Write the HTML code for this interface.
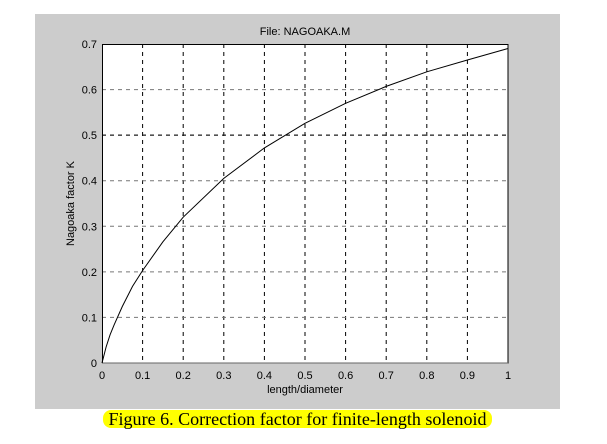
<!DOCTYPE html>
<html><head><style>
body{margin:0;background:#fff;width:607px;height:444px;overflow:hidden}
svg{display:block}
text{font-family:"Liberation Sans",sans-serif;font-size:11px;fill:#000}
</style></head><body>
<svg width="607" height="444" xmlns="http://www.w3.org/2000/svg">
<rect x="35" y="14" width="525" height="395" fill="#cccccc"/>
<rect x="102" y="44" width="406" height="319" fill="#fff"/>
<g stroke="#000" stroke-width="1" stroke-dasharray="4,4">
<line x1="142.6" y1="44" x2="142.6" y2="363"/><line x1="183.2" y1="44" x2="183.2" y2="363"/>
<line x1="223.8" y1="44" x2="223.8" y2="363"/><line x1="264.4" y1="44" x2="264.4" y2="363"/>
<line x1="305" y1="44" x2="305" y2="363"/><line x1="345.6" y1="44" x2="345.6" y2="363"/>
<line x1="386.2" y1="44" x2="386.2" y2="363"/><line x1="426.8" y1="44" x2="426.8" y2="363"/>
<line x1="467.4" y1="44" x2="467.4" y2="363"/>
</g>
<g stroke="#777" stroke-width="1" stroke-dasharray="4,4">
<line x1="102" y1="317.4" x2="508" y2="317.4"/><line x1="102" y1="271.9" x2="508" y2="271.9"/>
<line x1="102" y1="226.3" x2="508" y2="226.3"/><line x1="102" y1="180.7" x2="508" y2="180.7"/>
<line x1="102" y1="135.1" x2="508" y2="135.1"/><line x1="102" y1="89.6" x2="508" y2="89.6"/>
</g>
<line x1="102" y1="135.1" x2="508" y2="135.1" stroke="#000" stroke-dasharray="4,4"/>
<rect x="102.5" y="44.5" width="405.5" height="318.5" fill="none" stroke="#000"/>
<line x1="102" y1="363" x2="508" y2="363" stroke="#666"/>
<polyline fill="none" stroke="#000" stroke-width="1" points="102,363 106.1,347 110.1,334.7 114.2,324.7 122.3,306.5 132.5,286.4 142.6,270.5 162.9,241.8 183.2,217.2 223.8,178.4 264.4,147.9 305,123.3 345.6,103.3 386.2,86.4 426.8,71.8 467.4,60 508,48.5"/>
<text x="305" y="35" text-anchor="middle">File: NAGOAKA.M</text>
<g text-anchor="end">
<text x="97" y="367">0</text><text x="97" y="321.4">0.1</text><text x="97" y="275.9">0.2</text>
<text x="97" y="230.3">0.3</text><text x="97" y="184.7">0.4</text><text x="97" y="139.1">0.5</text>
<text x="97" y="93.6">0.6</text><text x="97" y="48">0.7</text>
</g>
<g text-anchor="middle">
<text x="102" y="379">0</text><text x="142.6" y="379">0.1</text><text x="183.2" y="379">0.2</text>
<text x="223.8" y="379">0.3</text><text x="264.4" y="379">0.4</text><text x="305" y="379">0.5</text>
<text x="345.6" y="379">0.6</text><text x="386.2" y="379">0.7</text><text x="426.8" y="379">0.8</text>
<text x="467.4" y="379">0.9</text><text x="508" y="379">1</text>
<text x="305" y="393">length/diameter</text>
<text transform="translate(74,203.5) rotate(-90)">Nagoaka factor K</text>
</g>
<rect x="103" y="410" width="389" height="18" rx="8" fill="#ffff00"/>
<text x="297.5" y="425" text-anchor="middle" textLength="378" lengthAdjust="spacingAndGlyphs" style="font-family:'Liberation Serif',serif;font-size:18px">Figure 6. Correction factor for finite-length solenoid</text>
</svg>
</body></html>
